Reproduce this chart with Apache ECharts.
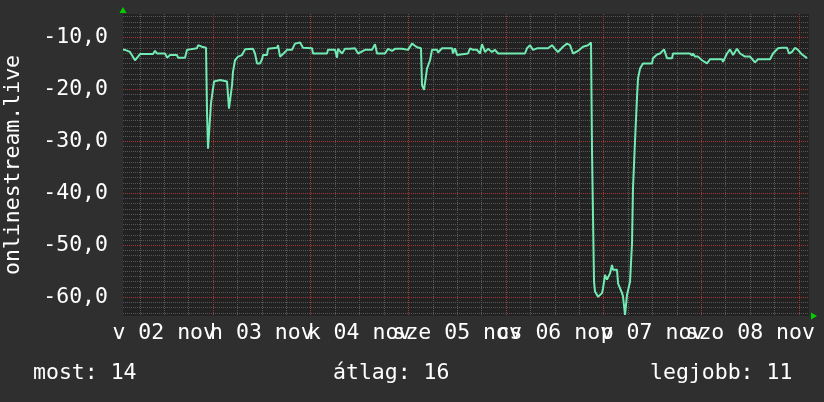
<!DOCTYPE html>
<html><head><meta charset="utf-8">
<script src="https://cdn.jsdelivr.net/npm/echarts@6/dist/echarts.min.js"></script>
<style>html,body{margin:0;padding:0;background:#2f2f2f}#c{width:824px;height:402px}</style>
</head><body><div id="c"></div>
<script>
// time in hours since 2 Nov 00:00
const hours = [1.88, 2.38, 3.60, 4.83, 5.57, 6.06, 9.26, 9.75, 10.24, 12.21, 12.70, 13.43, 15.15, 15.40, 17.12, 17.61, 17.86, 20.07, 20.32, 21.30, 22.28, 22.53, 22.77, 23.26, 23.51, 24.25, 24.49, 25.72, 26.21, 27.44, 27.93, 28.42, 28.67, 28.92, 29.41, 30.15, 31.13, 31.87, 33.83, 34.32, 34.81, 35.55, 36.04, 36.29, 37.27, 37.52, 38.01, 39.73, 39.97, 40.47, 41.20, 42.19, 43.41, 44.15, 45.38, 46.12, 48.33, 48.58, 52.02, 52.26, 53.98, 54.47, 54.72, 55.70, 56.44, 57.67,
  58.90, 59.63, 61.35, 63.07, 63.81, 64.30, 66.27, 67.01, 67.99, 68.73, 70.45, 70.69, 71.92, 72.90, 74.13, 75.11, 75.36, 75.85, 76.30, 76.59, 77.33, 77.82, 79.05, 79.30, 80.28, 82.74, 82.98, 83.47, 83.96, 84.21, 86.66, 87.16, 87.89, 88.88, 89.61, 90.10, 90.84, 91.58, 92.56, 93.30, 94.04, 100.67, 101.16, 101.90, 102.64, 103.62, 106.32, 107.31, 108.04, 108.78, 110.01, 110.99, 111.73, 112.47, 113.70, 114.93, 116.16, 116.89,
  117.14, 117.63, 117.87, 118.61, 119.59, 119.84, 120.33, 120.82, 121.56, 122.05, 122.30, 123.28, 123.53, 124.51, 124.75, 125.25, 125.74, 125.98, 126.48, 126.97, 127.21, 127.70, 128.20, 128.44, 128.93, 129.67, 131.88, 132.13, 133.11, 133.85, 134.83, 135.57, 136.80, 137.05, 141.22, 141.71, 141.96, 142.45, 143.19, 144.17, 145.40, 146.14, 149.08, 149.33, 150.31, 151.05, 151.79, 152.77, 153.51, 154.74, 155.97, 157.19, 157.93, 160.88, 161.62, 162.85, 163.83, 165.06, 165.55, 166.29, 167.02, 167.76, 168.75, 169.98];
const values = [-12.4, -12.4, -12.8, -14.4, -13.7, -13.2, -13.2, -12.6, -13.1, -13.1, -13.9, -13.4, -13.4, -13.9, -13.9, -12.4, -12.1, -12.1, -11.5, -11.8, -12.0, -24.3, -31.4, -31.4, -22.6, -18.5, -18.2, -18.2, -18.5, -18.5, -23.7, -23.7, -19.2, -16.6, -14.4, -13.7, -13.4, -12.3, -12.2, -13.1, -15.0, -15.0, -14.2, -13.4, -13.4, -12.2, -12.0, -12.0, -11.5, -13.7, -13.2, -12.4, -12.4, -11.2, -11.0, -12.0, -12.1, -13.1, -13.1, -12.4, -12.4, -13.9, -12.2, -13.1, -12.2, -12.2,
  -12.1, -13.1, -12.4, -12.4, -11.3, -13.1, -13.1, -12.2, -12.6, -12.2, -12.2, -12.4, -12.4, -11.2, -11.9, -12.1, -19.2, -20.1, -20.1, -16.0, -14.4, -12.4, -12.4, -12.9, -12.1, -12.1, -13.1, -12.1, -13.4, -13.1, -13.1, -12.1, -12.4, -12.4, -13.1, -11.3, -12.8, -12.2, -12.8, -12.4, -13.1, -13.1, -12.1, -11.5, -12.4, -12.1, -12.1, -11.5, -12.2, -12.8, -11.8, -11.2, -11.5, -13.1, -12.6, -11.8, -11.5, -11.0,
  -32.0, -57.0, -58.9, -59.9, -59.2, -58.3, -55.7, -56.6, -55.4, -53.8, -54.7, -54.7, -57.3, -59.2, -59.8, -63.4, -59.5, -59.2, -57.0, -49.6, -39.0, -30.0, -21.4, -17.9, -16.0, -15.0, -15.0, -14.0, -13.3, -13.1, -12.3, -14.0, -14.0, -13.1, -13.1, -13.5, -13.1, -13.7, -13.7, -14.4, -15.0, -14.2, -14.2, -14.7, -13.1, -12.3, -13.4, -12.2, -13.1, -13.7, -13.7, -14.8, -14.2, -14.2, -13.1, -12.1, -12.0, -12.0, -13.1, -12.8, -12.0, -12.4, -13.3, -14.0];
const dayLabels = ['v 02 nov', 'h 03 nov', 'k 04 nov', 'sze 05 nov', 'cs 06 nov', 'p 07 nov', 'szo 08 nov'];
const statNames = ['most', 'átlag', 'legjobb'];
const statValues = [14, 16, 11];
const yName = 'onlinestream.live';

const X_MIN = 1.88, X_MAX = 170.46;
const Y_MIN = -63.6, Y_MAX = -5.5;
const FONT = "'DejaVu Sans Mono', monospace";
const FS = 21.5;
const RED = '#a03636', GRAY = '#575757', GREEN = '#00d000';

const chart = echarts.init(document.getElementById('c'), null, {renderer: 'canvas'});
const seriesData = hours.map((h, i) => [h, values[i]]);
const statLeft = [33, 333, 650];

chart.setOption({
  animation: false,
  backgroundColor: '#2f2f2f',
  title: statNames.map((n, i) => ({
    text: n + ': ' + statValues[i], left: statLeft[i], top: 362, padding: 0,
    textStyle: {color: '#ffffff', fontFamily: FONT, fontSize: FS, fontWeight: 'normal'}
  })),
  grid: {left: 123, right: 15, top: 14, bottom: 86, show: true, backgroundColor: '#222222', borderWidth: 0,
    containLabel: false, outerBoundsMode: 'none'},
  xAxis: [
    { // label axis, shifted by 12 h so labels sit at noon
      type: 'value', position: 'bottom', min: X_MIN - 12, max: X_MAX - 12,
      minInterval: 24, maxInterval: 24,
      axisLine: {show: true, onZero: false, symbol: ['none', 'triangle'], symbolSize: [7, 6], symbolOffset: [0, 5],
        lineStyle: {color: GREEN, opacity: 0}},
      axisTick: {show: false}, splitLine: {show: false},
      axisLabel: {show: true, margin: 6, color: '#ffffff', fontFamily: FONT, fontSize: FS, hideOverlap: false,
        showMinLabel: false, showMaxLabel: false,
        formatter: v => (Math.abs(v / 24 - Math.round(v / 24)) < 1e-6 && dayLabels[Math.round(v / 24)]) || ''}
    },
    { // data axis: red midnight lines, drawn above the 6-hour lines
      type: 'value', position: 'top', min: X_MIN, max: X_MAX, z: 2,
      minInterval: 24, maxInterval: 24,
      axisLine: {show: false, onZero: false}, axisTick: {show: false},
      axisLabel: {show: true, color: 'rgba(0,0,0,0)', fontSize: 10},
      splitLine: {show: true, showMinLine: false, showMaxLine: false, lineStyle: {color: RED, width: 1, type: [1, 1]}},
      minorSplitLine: {show: false}
    },
    { // helper axis, same scale: grey 6-hour lines underneath
      type: 'value', position: 'top', min: X_MIN, max: X_MAX, z: 0,
      minInterval: 6, maxInterval: 6,
      axisLine: {show: false, onZero: false}, axisTick: {show: false},
      axisLabel: {show: true, color: 'rgba(0,0,0,0)', fontSize: 8},
      splitLine: {show: true, showMinLine: false, showMaxLine: false, lineStyle: {color: GRAY, width: 1, type: [1, 1]}}
    }
  ],
  yAxis: {
    type: 'value', min: Y_MIN, max: Y_MAX, minInterval: 10, maxInterval: 10, z: 1,
    name: yName, nameLocation: 'middle', nameGap: 99,
    nameTextStyle: {color: '#ffffff', fontFamily: FONT, fontSize: FS},
    axisLine: {show: true, onZero: false, symbol: ['none', 'triangle'], symbolSize: [7, 6], symbolOffset: [0, 4],
      lineStyle: {color: GREEN, opacity: 0}},
    axisTick: {show: false},
    axisLabel: {margin: 15, color: '#ffffff', fontFamily: FONT, fontSize: FS, showMinLabel: false, showMaxLabel: false,
      formatter: v => (Math.abs(v % 10) < 1e-6 ? v.toFixed(1).replace('.', ',') : '')},
    splitLine: {show: true, showMinLine: false, showMaxLine: false, lineStyle: {color: RED, width: 1, type: [1, 1]}},
    minorTick: {show: false, splitNumber: 10},
    minorSplitLine: {show: true, lineStyle: {color: GRAY, width: 1, type: [1, 1]}}
  },
  series: [{
    type: 'line', xAxisIndex: 1, yAxisIndex: 0, data: seriesData,
    showSymbol: false, symbol: 'none', lineStyle: {color: '#72eab4', width: 2}, z: 5
  }]
});
</script></body></html>
